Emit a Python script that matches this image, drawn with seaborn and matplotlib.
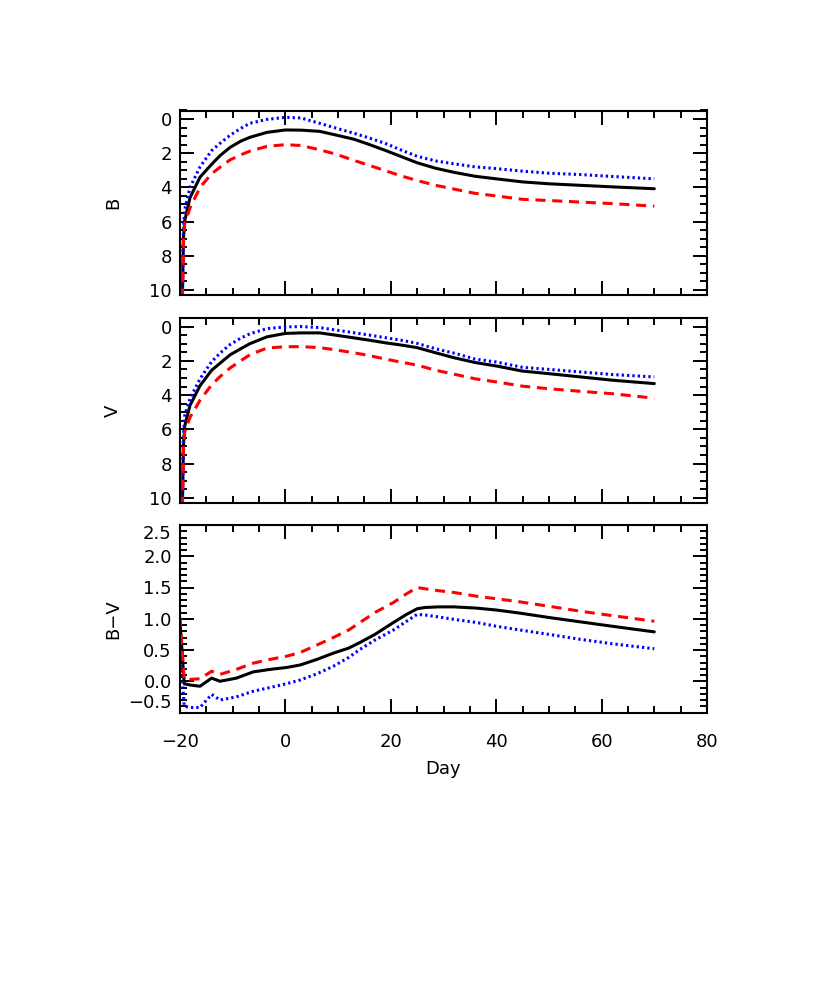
import matplotlib
matplotlib.use("Agg")
import matplotlib.pyplot as plt
from matplotlib.ticker import MultipleLocator, FuncFormatter
import seaborn as sns

# ---------------- data ----------------
day_mag = [-19.6, -19.35, -19.1, -18.1, -16.2, -14.0, -12.4, -10.5, -8.5, -6.75,
           -3.5, 0.0, 3.0, 6.5, 9.5, 13.0, 16.0, 19.0, 22.0, 25.0,
           28.5, 32.0, 36.0, 40.0, 45.0, 50.0, 56.0, 62.0, 70.0]

B_solid = [11.5, 7.0, 5.95, 4.6, 3.4, 2.65, 2.14, 1.66, 1.3, 1.07,
           0.78, 0.64, 0.65, 0.72, 0.93, 1.18, 1.5, 1.84, 2.2, 2.56,
           2.88, 3.12, 3.35, 3.5, 3.68, 3.79, 3.88, 3.97, 4.08]
B_dotted = [11.5, 6.5, 5.3, 4.0, 2.8, 1.85, 1.42, 0.95, 0.55, 0.25,
            0.02, -0.1, -0.06, 0.25, 0.52, 0.83, 1.12, 1.43, 1.82, 2.18,
            2.45, 2.62, 2.8, 2.9, 3.05, 3.17, 3.25, 3.36, 3.5]
B_dashed = [11.5, 7.2, 6.1, 5.2, 4.0, 3.2, 2.82, 2.39, 2.1, 1.88,
            1.6, 1.5, 1.55, 1.8, 2.05, 2.42, 2.72, 3.03, 3.33, 3.6,
            3.88, 4.1, 4.35, 4.5, 4.7, 4.77, 4.86, 4.95, 5.1]

V_solid = [11.5, 7.0, 5.8, 4.6, 3.45, 2.55, 2.14, 1.65, 1.3, 1.0,
           0.6, 0.4, 0.37, 0.37, 0.5, 0.66, 0.8, 0.95, 1.08, 1.23,
           1.53, 1.82, 2.1, 2.3, 2.6, 2.75, 2.94, 3.13, 3.33]
V_dotted = [11.5, 6.5, 5.2, 4.2, 3.05, 2.05, 1.55, 1.05, 0.68, 0.42,
            0.12, 0.02, 0.0, 0.06, 0.2, 0.36, 0.5, 0.65, 0.8, 0.98,
            1.3, 1.55, 1.9, 2.07, 2.38, 2.5, 2.65, 2.8, 2.94]
V_dashed = [11.5, 7.2, 6.15, 5.3, 4.3, 3.4, 2.92, 2.42, 2.0, 1.65,
            1.25, 1.18, 1.17, 1.23, 1.36, 1.53, 1.7, 1.9, 2.08, 2.25,
            2.55, 2.78, 3.05, 3.23, 3.48, 3.63, 3.78, 3.92, 4.18]

day_bv = [-20.0, -19.2, -18.1, -16.2, -14.0, -12.4, -9.3, -6.1, -2.9, 0.2,
          2.8, 6.0, 9.1, 12.0, 14.15, 17.0, 20.5, 23.0, 25.0, 26.5,
          29.0, 32.0, 36.3, 40.0, 44.5, 50.0, 56.0, 62.0, 70.0]
BV_solid = [0.96, -0.04, -0.06, -0.08, 0.05, 0.0, 0.05, 0.15, 0.19, 0.22,
            0.26, 0.35, 0.45, 0.53, 0.62, 0.75, 0.94, 1.07, 1.16, 1.18,
            1.19, 1.19, 1.17, 1.14, 1.09, 1.02, 0.95, 0.88, 0.79]
BV_dotted = [0.6, -0.4, -0.42, -0.42, -0.21, -0.3, -0.25, -0.16, -0.1, -0.04,
             0.02, 0.12, 0.24, 0.38, 0.51, 0.66, 0.82, 0.96, 1.07, 1.06,
             1.03, 0.99, 0.94, 0.88, 0.82, 0.75, 0.67, 0.6, 0.52]
BV_dashed = [1.02, 0.03, 0.03, 0.04, 0.16, 0.11, 0.19, 0.29, 0.35, 0.4,
             0.46, 0.58, 0.7, 0.82, 0.94, 1.1, 1.26, 1.4, 1.5, 1.48,
             1.45, 1.42, 1.36, 1.32, 1.27, 1.2, 1.12, 1.05, 0.96]

x_ticks = [-20, 0, 20, 40, 60, 80]
mag_ticks = [0, 2, 4, 6, 8, 10]
bv_ticks = [-0.5, 0.0, 0.5, 1.0, 1.5, 2.0, 2.5]

# ---------------- style ----------------
sns.set_style("white")
plt.rcParams['font.family'] = ['DejaVu Sans']
plt.rcParams['axes.unicode_minus'] = True
plt.rcParams['axes.labelcolor'] = 'black'
plt.rcParams['text.color'] = 'black'

fig = plt.figure(figsize=(8.3, 9.98), dpi=100)
FW, FH = 830.0, 998.0
L, R = 180.0, 707.0


def add_ax(top, bottom):
    return fig.add_axes([L / FW, 1 - bottom / FH, (R - L) / FW, (bottom - top) / FH])


ax1 = add_ax(110.5, 295.0)
ax2 = add_ax(318.0, 503.0)
ax3 = add_ax(525.0, 712.5)

LW = 2.2
line_styles = {
    "solid": dict(color="black", linestyle="-"),
    "dotted": dict(color="#0000ff", linestyle=(0, (0.75, 1.0))),
    "dashed": dict(color="#ff0000", linestyle=(0, (3.3, 2.2))),
}

panels = [
    (ax1, day_mag, {"solid": B_solid, "dotted": B_dotted, "dashed": B_dashed}),
    (ax2, day_mag, {"solid": V_solid, "dotted": V_dotted, "dashed": V_dashed}),
    (ax3, day_bv, {"solid": BV_solid, "dotted": BV_dotted, "dashed": BV_dashed}),
]

for ax, days, series in panels:
    for key in ["solid", "dotted", "dashed"]:
        sns.lineplot(x=days, y=series[key], ax=ax, linewidth=LW,
                     estimator=None, sort=False, legend=False,
                     **line_styles[key])

minus_fmt = FuncFormatter(lambda v, p: ("%.1f" % v).replace("-", "\u2212"))
int_fmt = FuncFormatter(lambda v, p: ("%d" % round(v)).replace("-", "\u2212"))

for ax in (ax1, ax2, ax3):
    ax.set_xlim(-20, 80)
    ax.set_xticks(x_ticks)
    ax.xaxis.set_minor_locator(MultipleLocator(5))
    ax.xaxis.set_major_formatter(int_fmt)
    for sp in ax.spines.values():
        sp.set_linewidth(1.5)
        sp.set_color("black")
        sp.set_visible(True)
    ax.tick_params(which="both", direction="in", top=True, right=True,
                   bottom=True, left=True, width=1.4, color="black",
                   labelsize=13, labelcolor="black")
    ax.tick_params(which="major", length=10)
    ax.tick_params(which="minor", length=5)
    ax.tick_params(axis="y", pad=6)
    ax.tick_params(axis="x", pad=15)
    ax.set_facecolor("white")

for ax, lab in ((ax1, "B"), (ax2, "V")):
    ax.set_ylim(10.3, -0.5)
    ax.set_yticks(mag_ticks)
    ax.yaxis.set_major_formatter(int_fmt)
    ax.yaxis.set_minor_locator(MultipleLocator(0.5))
    ax.tick_params(axis="x", labelbottom=False)
    ax.set_ylabel(lab, fontsize=13, color="black")
    ax.set_xlabel("")

ax3.set_ylim(-0.5, 2.5)
ax3.set_yticks(bv_ticks)
ax3.yaxis.set_major_formatter(minus_fmt)
ax3.yaxis.set_minor_locator(MultipleLocator(0.1))
ax3.set_ylabel("B\u2212V", fontsize=13, color="black")
ax3.set_xlabel("Day", fontsize=13, labelpad=6, color="black")

# end labels of the B-V axis sit inside the axis range, as in the reference
ylabels = ax3.get_yticklabels()
ylabels[0].set_verticalalignment("bottom")
ylabels[-1].set_verticalalignment("top")

for ax in (ax1, ax2, ax3):
    ax.yaxis.set_label_coords(-0.11, 0.5)

fig.savefig("out.png", dpi=100, facecolor="white")
